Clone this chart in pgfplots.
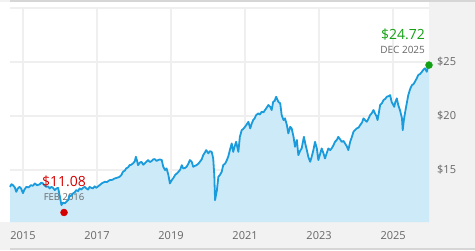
\documentclass[border=0pt]{standalone}
\usepackage{pgfplots}
\pgfplotsset{compat=1.18}
\usepackage{pgfplotstable}
\usepackage{fontspec}
\setmainfont{Open Sans}
\definecolor{bg}{HTML}{F2F2F2}
\definecolor{edge}{HTML}{D6D6D6}
\definecolor{gridc}{HTML}{EFEFEF}
\definecolor{lineblue}{HTML}{1A9BDC}
\definecolor{fillblue}{HTML}{CDEAF8}
\definecolor{lblgrey}{HTML}{666666}
\definecolor{redc}{HTML}{D40000}
\definecolor{greenc}{HTML}{14A014}

\pgfplotstableread{
x y
2014.65 13.45
2014.69 13.70
2014.73 13.61
2014.78 13.40
2014.82 12.99
2014.86 13.30
2014.91 13.45
2014.95 13.30
2015.00 12.87
2015.04 13.20
2015.09 13.45
2015.15 13.40
2015.22 13.61
2015.27 13.55
2015.32 13.77
2015.38 13.60
2015.45 13.68
2015.50 13.85
2015.54 13.77
2015.58 13.60
2015.63 13.45
2015.68 13.50
2015.72 13.31
2015.77 13.45
2015.81 13.36
2015.86 13.15
2015.90 13.30
2015.95 13.36
2015.99 12.69
2016.04 11.76
2016.08 12.00
2016.13 11.92
2016.18 12.10
2016.22 12.22
2016.26 12.69
2016.30 12.60
2016.35 12.84
2016.40 12.95
2016.44 13.15
2016.49 13.05
2016.53 13.31
2016.58 13.20
2016.62 13.36
2016.67 13.45
2016.71 13.31
2016.76 13.20
2016.80 13.45
2016.85 13.35
2016.89 13.31
2016.94 13.50
2016.98 13.36
2017.03 13.50
2017.07 13.61
2017.14 13.80
2017.21 13.92
2017.27 13.90
2017.34 14.07
2017.41 14.10
2017.48 14.23
2017.55 14.30
2017.61 14.38
2017.66 14.55
2017.70 14.84
2017.75 14.95
2017.79 15.16
2017.84 15.25
2017.88 15.46
2017.93 15.50
2017.97 15.62
2018.02 15.80
2018.05 16.23
2018.08 15.90
2018.11 15.46
2018.16 15.70
2018.20 15.77
2018.25 15.50
2018.29 15.62
2018.34 15.80
2018.38 15.93
2018.43 15.75
2018.47 15.83
2018.52 16.00
2018.56 16.02
2018.61 15.85
2018.65 15.93
2018.70 15.99
2018.75 15.93
2018.79 15.31
2018.84 15.00
2018.88 15.16
2018.93 14.54
2018.97 13.77
2019.02 14.07
2019.07 14.30
2019.11 14.54
2019.16 14.70
2019.20 14.84
2019.25 15.05
2019.29 15.46
2019.33 15.16
2019.38 15.20
2019.42 15.31
2019.47 15.60
2019.51 15.93
2019.56 15.77
2019.60 15.31
2019.65 15.40
2019.69 15.46
2019.74 15.60
2019.78 15.77
2019.83 16.00
2019.87 16.39
2019.91 16.60
2019.95 16.85
2020.01 16.55
2020.05 16.75
2020.10 16.69
2020.14 16.08
2020.17 14.50
2020.19 12.22
2020.24 13.15
2020.28 14.38
2020.33 14.60
2020.37 14.84
2020.41 15.46
2020.46 15.60
2020.51 15.93
2020.55 16.30
2020.59 16.85
2020.64 17.47
2020.68 16.69
2020.72 17.20
2020.76 17.62
2020.82 16.69
2020.86 18.08
2020.91 18.70
2020.95 18.80
2021.00 19.01
2021.04 19.20
2021.09 19.47
2021.14 18.86
2021.18 19.30
2021.22 19.63
2021.26 19.80
2021.30 20.09
2021.36 20.25
2021.40 20.15
2021.45 20.40
2021.50 20.35
2021.54 20.56
2021.58 20.75
2021.63 21.02
2021.68 20.85
2021.72 20.56
2021.76 21.32
2021.80 21.40
2021.84 21.79
2021.90 21.32
2021.95 21.18
2021.99 20.09
2022.04 19.63
2022.08 19.79
2022.13 19.17
2022.17 18.40
2022.22 19.01
2022.26 18.86
2022.31 18.08
2022.35 17.16
2022.40 17.78
2022.44 16.39
2022.49 16.80
2022.53 17.01
2022.59 18.08
2022.63 17.40
2022.67 16.85
2022.71 16.23
2022.76 15.77
2022.80 16.23
2022.85 16.90
2022.89 17.62
2022.94 17.01
2022.98 15.93
2023.03 16.50
2023.07 17.01
2023.12 16.55
2023.16 16.08
2023.21 16.60
2023.25 17.01
2023.30 16.85
2023.34 17.01
2023.39 17.30
2023.43 17.62
2023.48 17.80
2023.52 18.08
2023.57 17.85
2023.61 17.62
2023.66 17.70
2023.70 17.47
2023.75 17.20
2023.79 16.85
2023.84 17.62
2023.88 18.00
2023.93 18.55
2023.97 18.70
2024.02 18.86
2024.07 18.95
2024.11 19.17
2024.16 19.40
2024.20 19.79
2024.25 19.60
2024.29 19.47
2024.34 19.80
2024.38 20.09
2024.43 20.30
2024.47 20.56
2024.51 20.25
2024.55 20.00
2024.58 19.63
2024.62 20.40
2024.65 21.02
2024.70 21.20
2024.74 21.48
2024.79 21.60
2024.83 21.79
2024.88 21.85
2024.92 21.94
2024.96 21.32
2025.03 20.86
2025.06 21.30
2025.10 21.64
2025.14 21.02
2025.19 20.50
2025.24 19.79
2025.26 18.70
2025.29 19.60
2025.32 20.25
2025.37 21.20
2025.41 21.94
2025.46 22.50
2025.51 22.87
2025.55 22.95
2025.59 23.18
2025.64 23.50
2025.68 23.80
2025.73 23.90
2025.78 24.10
2025.82 24.30
2025.86 24.42
2025.91 24.10
2025.95 24.72
2025.97 24.72
}\pricedata

\begin{document}
\begin{tikzpicture}[x=1pt,y=1pt]
\fill[bg] (0,0) rectangle (475,250);
\fill[edge] (10,248) rectangle (475,250);
\fill[edge] (10,0) rectangle (475,2);
\fill[white] (0,28) rectangle (429,248);
\begin{axis}[
  at={(10pt,28pt)}, anchor=south west,
  scale only axis, width=419pt, height=214pt,
  xmin=2014.65, xmax=2025.97, ymin=10.2, ymax=30,
  axis line style={draw=none},
  tick style={draw=none},
  grid=major,
  major grid style={gridc, line width=1.5pt},
  xtick={2015,2017,2019,2021,2023,2025},
  xticklabels={2015,2017,2019,2021,2023,2025},
  ytick={15,20,25,30},
  yticklabels={\$15,\$20,\$25,{}},
  yticklabel pos=right,
  /pgf/number format/assume math mode=true,
  xticklabel style={anchor=north, inner sep=0pt, yshift=-9pt, font=\fontsize{11}{13}\selectfont, text=lblgrey},
  yticklabel style={anchor=west, inner sep=0pt, xshift=8pt, font=\fontsize{11}{13}\selectfont, text=lblgrey},
  clip=false,
]
\addplot[draw=none, fill=fillblue] table[x=x,y=y] {\pricedata} \closedcycle;
\node[anchor=base, text=lblgrey, font=\fontsize{9.5}{11}\selectfont] at (axis cs:2016.11,12.22) {FEB 2016};
\addplot[lineblue, line width=1.8pt, line join=round] table[x=x,y=y] {\pricedata};
\node[anchor=base, text=redc, font=\fontsize{14}{16}\selectfont] at (axis cs:2016.11,13.52) {\$11.08};
\node[anchor=base east, text=greenc, font=\fontsize{14}{16}\selectfont, inner sep=0pt] at (axis cs:2025.865,27.13) {\$24.72};
\node[anchor=base east, text=lblgrey, font=\fontsize{10}{12}\selectfont, inner sep=0pt] at (axis cs:2025.865,25.83) {DEC 2025};
\addplot[only marks, mark=*, mark size=3.5pt, color=redc] coordinates {(2016.11,11.08)};
\addplot[only marks, mark=*, mark size=3.5pt, color=greenc] coordinates {(2025.97,24.72)};
\end{axis}
\end{tikzpicture}
\end{document}
